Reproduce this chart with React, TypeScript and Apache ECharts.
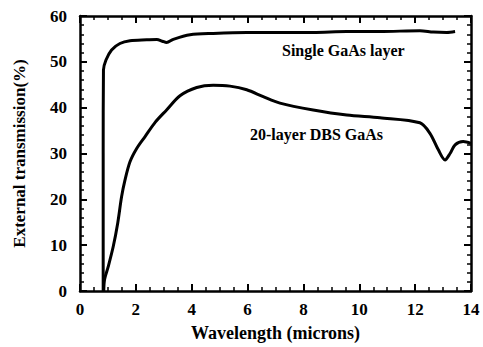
import React, { useEffect, useRef } from "react";
import * as echarts from "echarts";

const singleLabel = "Single GaAs layer";
const dbsLabel = "20-layer DBS GaAs";
const xTitle = "Wavelength (microns)";
const yTitle = "External transmission(%)";

const singleGaAs: [number, number][] = [
  [0.83, 0], [0.83, 30], [0.84, 48.2], [0.93, 50.4], [1.13, 52.6], [1.43, 54.0],
  [1.79, 54.6], [2.39, 54.8], [2.75, 54.9], [2.95, 54.5], [3.1, 54.2], [3.34, 54.9],
  [3.94, 55.9], [4.77, 56.2], [5.97, 56.4], [7.16, 56.4], [8.35, 56.4], [9.55, 56.6],
  [10.74, 56.6], [12.17, 56.8], [12.65, 56.5], [13.13, 56.4], [13.43, 56.6],
];

const dbsGaAs: [number, number][] = [
  [0.85, 0], [0.88, 2.5], [1.01, 5.3], [1.19, 9.7], [1.35, 14.8], [1.49, 20.6],
  [1.61, 24.2], [1.79, 28.2], [2.03, 31.1], [2.33, 33.7], [2.69, 36.8], [3.1, 39.5],
  [3.58, 42.6], [4.18, 44.4], [4.77, 44.9], [5.37, 44.7], [5.97, 43.9], [6.56, 42.4],
  [7.16, 41.0], [8.35, 39.5], [9.55, 38.4], [10.74, 37.8], [12.17, 36.7], [12.53, 34.4],
  [12.83, 30.8], [13.07, 28.6], [13.25, 30.0], [13.43, 31.9], [13.72, 32.6], [14.0, 32.2],
];

const FONT = "Liberation Serif";

function axisBase(min: number, max: number, interval: number, minorSplit: number) {
  return {
    type: "value" as const,
    min,
    max,
    interval,
    axisLine: { show: true, onZero: false, lineStyle: { color: "#000", width: 2.5 } },
    axisTick: { show: true, inside: true, length: 7, lineStyle: { color: "#000", width: 2 } },
    minorTick: { show: true, splitNumber: minorSplit, length: 4, lineStyle: { color: "#000", width: 1.5 } },
    splitLine: { show: false },
  };
}

export default function App() {
  const ref = useRef<HTMLDivElement>(null);
  useEffect(() => {
    if (!ref.current) return;
    const chart = echarts.init(ref.current, undefined, { renderer: "svg" });
    chart.setOption({
      animation: false,
      backgroundColor: "#fff",
      grid: { left: 80, right: 12, top: 16, bottom: 56 },
      xAxis: [
        {
          ...axisBase(0, 14, 2, 4),
          position: "bottom",
          axisLabel: { color: "#000", fontFamily: FONT, fontWeight: "bold", fontSize: 17, margin: 10 },
          name: xTitle,
          nameLocation: "middle",
          nameGap: 33,
          nameTextStyle: { color: "#000", fontFamily: FONT, fontWeight: "bold", fontSize: 18 },
        },
        { ...axisBase(0, 14, 2, 4), position: "top", axisLabel: { show: false } },
      ],
      yAxis: [
        {
          ...axisBase(0, 60, 10, 5),
          position: "left",
          axisLabel: { color: "#000", fontFamily: FONT, fontWeight: "bold", fontSize: 17, margin: 13 },
          name: yTitle,
          nameLocation: "middle",
          nameGap: 52,
          nameTextStyle: { color: "#000", fontFamily: FONT, fontWeight: "bold", fontSize: 17 },
        },
        { ...axisBase(0, 60, 10, 5), position: "right", axisLabel: { show: false } },
      ],
      graphic: [
        {
          type: "text", left: 282, top: 42,
          style: { text: singleLabel, fill: "#000", font: `bold 16px '${FONT}'` },
        },
        {
          type: "text", left: 250, top: 126,
          style: { text: dbsLabel, fill: "#000", font: `bold 16px '${FONT}'` },
        },
      ],
      series: [
        {
          type: "line", data: singleGaAs, xAxisIndex: 0, yAxisIndex: 0,
          showSymbol: false, smooth: 0.3, lineStyle: { color: "#000", width: 3 },
        },
        {
          type: "line", data: dbsGaAs, xAxisIndex: 0, yAxisIndex: 0,
          showSymbol: false, smooth: 0.3, lineStyle: { color: "#000", width: 3 },
        },
      ],
    });
    return () => chart.dispose();
  }, []);
  return (
    <div
      ref={ref}
      style={{ position: "fixed", left: 0, top: 0, width: 483, height: 347, background: "#fff" }}
    />
  );
}
